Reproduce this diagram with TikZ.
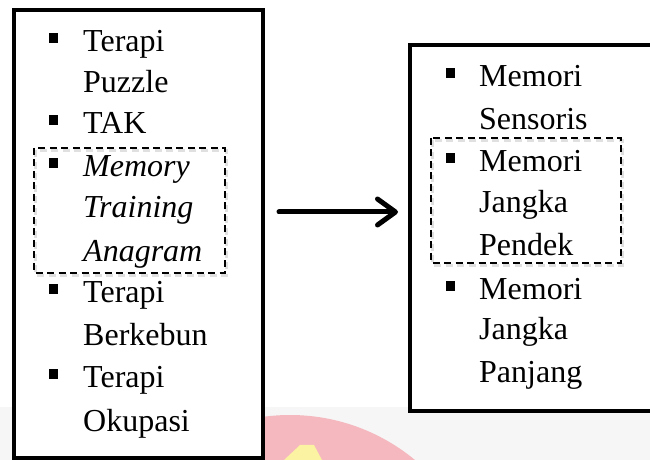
\documentclass[tikz,border=0pt]{standalone}
\usepackage{fontspec}
\setmainfont{Liberation Serif}
\usetikzlibrary{arrows.meta}
\definecolor{wmgrey}{HTML}{F6F6F6}
\definecolor{wmpink}{HTML}{F4B8BE}
\definecolor{wmyellow}{HTML}{FBF2A2}
\tikzset{
  frame/.style={draw=black, line width=4pt, fill=white},
  dashbox/.style={draw=black, line width=2.4pt, dash pattern=on 7pt off 4.5pt},
  dashshadow/.style={draw=black!12, line width=3pt, dash pattern=on 7pt off 4.5pt},
  txt/.style={anchor=base west, inner sep=0pt, font=\fontsize{32}{38}\selectfont},
  itxt/.style={txt, font=\fontsize{32}{38}\selectfont\itshape},
  bul/.style={fill=black, minimum size=9.5pt, inner sep=0pt, draw=none},
  bigarrow/.style={line width=5pt, -{Straight Barb[length=18pt,width=26pt,round]}, line cap=round}
}
\begin{document}
\begin{tikzpicture}[x=1pt,y=1pt]
\useasboundingbox (0,0) rectangle (650,460);
\clip (0,0) rectangle (650,460);
% faint background watermark
\fill[wmgrey] (0,0) rectangle (650,53);
\fill[wmpink] (290,-151) circle (196);
\fill[wmyellow] (284,0) -- (300,15) -- (314,15) -- (322,0) -- cycle;
% frames
\draw[frame] (14,450) rectangle (263,2);
\draw[frame] (410,415) rectangle (680,49);
% dashed highlight boxes (with faint shadow)
\draw[dashshadow] (35.5,309.5) rectangle (226.5,184.5);
\draw[dashshadow] (432.5,319.5) rectangle (622.5,194.5);
\draw[dashbox] (34,312) rectangle (225,187);
\draw[dashbox] (431,322) rectangle (621,197);
% left list
\node[txt] (l1) at (83,408) {Terapi};
\node[txt] (l2) at (83,367) {Puzzle};
\node[txt] (l3) at (83,326) {TAK};
\node[itxt] (l4) at (83,283) {Memory};
\node[itxt] (l5) at (83,242) {Training};
\node[itxt] (l6) at (83,198) {Anagram};
\node[txt] (l7) at (83,157) {Terapi};
\node[txt] (l8) at (83,114) {Berkebun};
\node[txt] (l9) at (83,72) {Terapi};
\node[txt] (l10) at (83,28) {Okupasi};
\node[bul] (b1) at (53.5,422) {};
\node[bul] (b2) at (53.5,340) {};
\node[bul] (b3) at (53.5,297) {};
\node[bul] (b4) at (53.5,171) {};
\node[bul] (b5) at (53.5,86) {};
% right list
\node[txt] (r1) at (479,373) {Memori};
\node[txt] (r2) at (479,330) {Sensoris};
\node[txt] (r3) at (479,288) {Memori};
\node[txt] (r4) at (479,247) {Jangka};
\node[txt] (r5) at (479,204) {Pendek};
\node[txt] (r6) at (479,160) {Memori};
\node[txt] (r7) at (479,120) {Jangka};
\node[txt] (r8) at (479,77) {Panjang};
\node[bul] (c1) at (450.5,387) {};
\node[bul] (c2) at (450.5,302) {};
\node[bul] (c3) at (450.5,174) {};
% arrow
\coordinate (as) at (279,248);
\coordinate (ae) at (398,248);
\draw[bigarrow] (as) -- (ae);
\end{tikzpicture}
\end{document}
